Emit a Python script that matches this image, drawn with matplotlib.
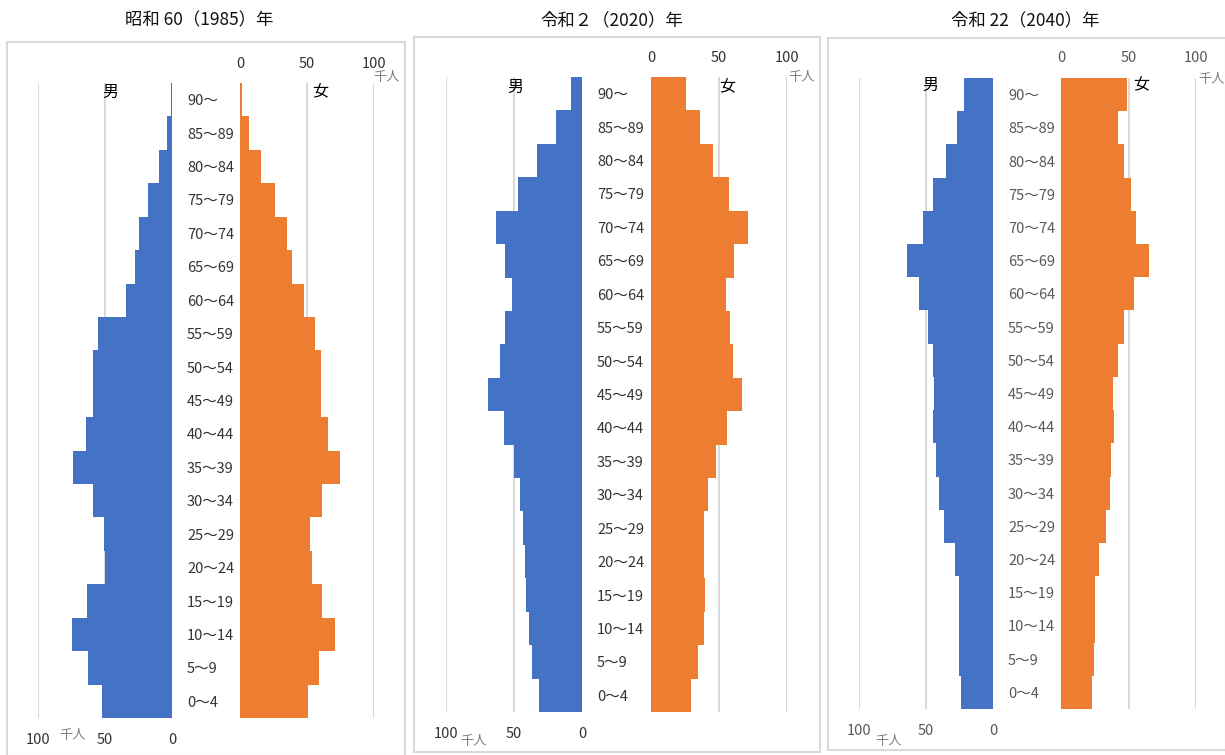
import matplotlib
matplotlib.use("Agg")
import matplotlib.pyplot as plt
from matplotlib.patches import Rectangle

plt.rcParams['font.family'] = ['Noto Sans CJK JP', 'DejaVu Sans']

# ---------------- data ----------------
ages = ["0～4", "5～9", "10～14", "15～19", "20～24", "25～29", "30～34", "35～39",
        "40～44", "45～49", "50～54", "55～59", "60～64", "65～69", "70～74",
        "75～79", "80～84", "85～89", "90～"]

titles = ["昭和 60（1985）年", "令和２（2020）年", "令和 22（2040）年"]

male_1985 = [52.2, 62.4, 74.6, 63.7, 50.0, 50.7, 58.7, 73.9, 64.4, 58.7,
             58.7, 55.5, 34.6, 27.6, 24.6, 17.7, 9.5, 3.5, 0.5]
female_1985 = [51.0, 59.2, 71.1, 61.0, 54.0, 52.0, 61.0, 74.9, 65.4, 60.2,
               60.4, 55.7, 48.0, 38.8, 34.8, 26.0, 15.7, 7.0, 1.7]

male_2020 = [31.7, 36.6, 39.0, 41.5, 41.7, 43.4, 45.4, 50.2, 57.6, 69.3,
             60.2, 56.3, 51.5, 56.3, 63.2, 47.1, 33.4, 19.3, 8.0]
female_2020 = [29.6, 34.7, 39.1, 39.8, 39.1, 39.1, 42.0, 47.6, 55.8, 66.7,
               60.0, 58.3, 55.1, 60.7, 71.1, 57.0, 45.9, 35.9, 26.0]

male_2040 = [23.6, 25.4, 25.4, 25.4, 28.6, 36.8, 40.5, 42.5, 45.0, 43.8,
             45.0, 48.8, 55.2, 64.2, 52.5, 45.0, 34.8, 26.6, 21.4]
female_2040 = [23.2, 24.4, 25.4, 25.4, 28.3, 33.3, 36.5, 37.2, 39.2, 38.2,
               42.1, 46.3, 53.9, 65.0, 55.9, 52.0, 46.6, 42.1, 49.0]

x_ticks = [0, 50, 100]
unit = "千人"

males = [male_1985, male_2020, male_2040]
females = [female_1985, female_2020, female_2040]

# ---------------- layout (pixels) ----------------
W, H = 1225, 755
BLUE = "#4472C4"
ORANGE = "#ED7D31"
GRID = "#D9D9D9"

panels = [
    dict(m=(38, 172), f=(240, 374), y=(83, 718), box=(7, 42, 405, 756),
         title_x=199, tc="#333333",
         top_unit=(373, 78), bot_unit=(59, 736), man=(110, 92), woman=(320, 92)),
    dict(m=(446, 582), f=(651, 787), y=(77, 712), box=(414, 37, 820, 752),
         title_x=612, tc="#333333",
         top_unit=(788, 77), bot_unit=(460, 742), man=(515, 87), woman=(727, 87)),
    dict(m=(859, 993), f=(1061, 1196), y=(78, 709), box=(828, 38, 1226, 750),
         title_x=1025, tc="#595959",
         top_unit=(1198, 80), bot_unit=(875, 742), man=(930, 85), woman=(1141, 85)),
]

fig = plt.figure(figsize=(W / 100, H / 100), dpi=100)


def rect(x0, x1, y0, y1):
    return [x0 / W, 1 - y1 / H, (x1 - x0) / W, (y1 - y0) / H]


for i, p in enumerate(panels):
    # panel border
    bx0, by0, bx1, by1 = p["box"]
    fig.patches.append(Rectangle((bx0 / W, 1 - by1 / H), (bx1 - bx0) / W, (by1 - by0) / H,
                                 transform=fig.transFigure, fill=False,
                                 edgecolor=GRID, linewidth=1.5, zorder=0))
    fig.text(p["title_x"] / W, 1 - 20 / H, titles[i], ha="center", va="center",
             fontsize=12.5, color="#111111")

    ypos = list(range(len(ages)))

    # male axes
    axm = fig.add_axes(rect(p["m"][0], p["m"][1], p["y"][0], p["y"][1]))
    axm.barh(ypos, males[i], height=1.0, color=BLUE, linewidth=0, zorder=2)
    axm.set_xlim(100, 0)
    axm.set_ylim(-0.5, len(ages) - 0.5)
    axm.set_xticks(x_ticks)
    axm.set_xticklabels([str(t) for t in x_ticks], fontsize=10.5, color=p["tc"])
    axm.tick_params(axis="x", length=0, pad=11)
    axm.yaxis.tick_right()
    axm.set_yticks(ypos)
    axm.set_yticklabels(ages, fontsize=10.5, color=p["tc"], ha="left")
    axm.tick_params(axis="y", length=0, pad=10.8)
    axm.grid(axis="x", color=GRID, linewidth=1.5, zorder=0)
    axm.set_axisbelow(True)
    for s in axm.spines.values():
        s.set_visible(False)
    axm.patch.set_alpha(0)

    # female axes
    axf = fig.add_axes(rect(p["f"][0], p["f"][1], p["y"][0], p["y"][1]))
    axf.barh(ypos, females[i], height=1.0, color=ORANGE, linewidth=0, zorder=2)
    axf.set_xlim(0, 100)
    axf.set_ylim(-0.5, len(ages) - 0.5)
    axf.xaxis.tick_top()
    axf.set_xticks(x_ticks)
    axf.set_xticklabels([str(t) for t in x_ticks], fontsize=10.5, color=p["tc"])
    axf.tick_params(axis="x", length=0, pad=9)
    axf.set_yticks([])
    axf.grid(axis="x", color=GRID, linewidth=1.5, zorder=0)
    axf.set_axisbelow(True)
    for s in axf.spines.values():
        s.set_visible(False)
    axf.patch.set_alpha(0)

    # unit labels
    fig.text(p["top_unit"][0] / W, 1 - p["top_unit"][1] / H, unit, ha="left", va="center",
             fontsize=9.5, color="#7f7f7f")
    fig.text(p["bot_unit"][0] / W, 1 - p["bot_unit"][1] / H, unit, ha="left", va="center",
             fontsize=9.5, color="#7f7f7f")
    # sex labels
    fig.text(p["man"][0] / W, 1 - p["man"][1] / H, "男", ha="center", va="center",
             fontsize=11.5, color="#000000")
    fig.text(p["woman"][0] / W, 1 - p["woman"][1] / H, "女", ha="center", va="center",
             fontsize=11.5, color="#000000")

fig.savefig("out.png", dpi=100, facecolor="white")
